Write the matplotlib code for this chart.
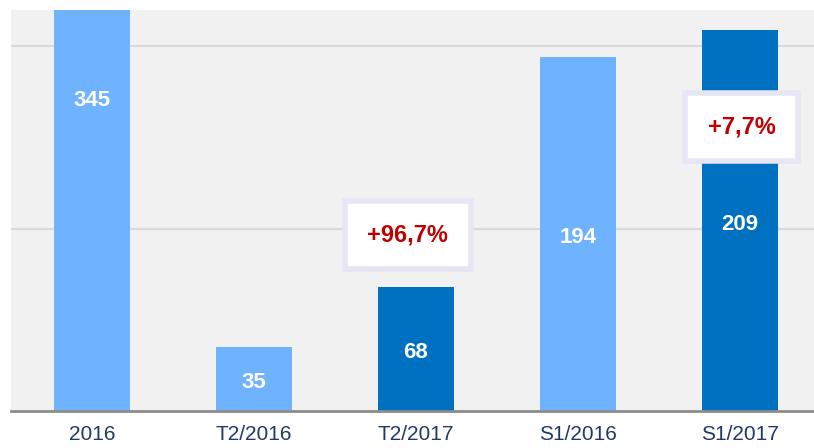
import matplotlib
matplotlib.use("Agg")
import matplotlib.pyplot as plt

categories = ["2016", "T2/2016", "T2/2017", "S1/2016", "S1/2017"]
values = [345, 35, 68, 194, 209]
colors = ["#6fb3ff", "#6fb3ff", "#0070c0", "#6fb3ff", "#0070c0"]
changes = ["+96,7%", "+7,7%"]
change_pos = [(1.95, 96.5), (4.01, 156)]

plt.rcParams['font.family'] = ['Liberation Sans', 'DejaVu Sans']

fig = plt.figure(figsize=(8.14, 4.48), dpi=100)
ax = fig.add_axes([11/814, 1 - 411/448, (814-11)/814, (411-10)/448])
ax.set_facecolor("#f1f1f1")

x = list(range(len(categories)))
ax.bar(x, values, width=0.465, color=colors, zorder=2)

for xi, v in zip(x, values):
    ax.text(xi, v/2 - 2, str(v), ha='center', va='center', color='white',
            fontsize=16, fontweight='bold', zorder=3)

for txt, (px, py) in zip(changes, change_pos):
    ax.text(px, py, txt, ha='center', va='center', color='#c00000',
            fontsize=17, fontweight='bold', zorder=5,
            bbox=dict(boxstyle='square,pad=0.95', fc='white', ec='#e6e6f5', lw=4))

ax.set_xlim(-0.5, 4.457)
ax.set_ylim(0, 220)
ax.set_yticks([100, 200])
ax.yaxis.grid(True, color='#d9d9d9', lw=1.5, zorder=1)
ax.tick_params(axis='y', left=False, labelleft=False)
ax.set_xticks(x)
ax.set_xticklabels(categories, fontsize=15, color='#1f3a68')
ax.tick_params(axis='x', length=0, pad=10)
for s in ['top', 'right', 'left']:
    ax.spines[s].set_visible(False)
ax.spines['bottom'].set_color('#8c8c8c')
ax.spines['bottom'].set_linewidth(2)
ax.spines['bottom'].set_zorder(4)

fig.savefig("out.png", dpi=100, facecolor='white')
